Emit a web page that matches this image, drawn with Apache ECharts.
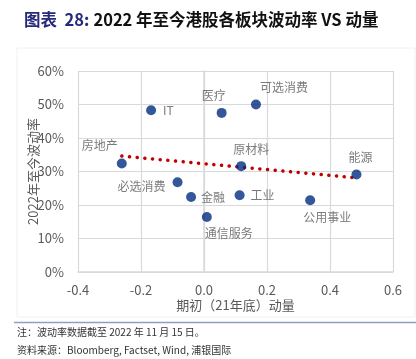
<!DOCTYPE html>
<html><head><meta charset="utf-8">
<script src="https://cdn.jsdelivr.net/npm/echarts@6/dist/echarts.min.js"></script>
<style>html,body{margin:0;padding:0;background:#fff}#c{width:416px;height:359px}</style>
</head><body><div id="c"></div>
<script>
const sectors = ['IT','房地产','医疗','可选消费','原材料','能源','必选消费','金融','通信服务','工业','公用事业'];
const momentum = [-0.168,-0.261,0.056,0.165,0.118,0.484,-0.084,-0.041,0.009,0.113,0.337];
const volatility = [0.483,0.324,0.475,0.500,0.316,0.291,0.268,0.224,0.164,0.229,0.214];
const trendX = [-0.261, 0.484];
const trendY = [0.346, 0.281];
const xTicks = [-0.4,-0.2,0.0,0.2,0.4,0.6];
const yTicks = ['0%','10%','20%','30%','40%','50%','60%'];

const labelPos = {
  'IT': {position:'right', offset:[2,0]},
  '房地产': {position:'top', offset:[-22,-2]},
  '医疗': {position:'top', offset:[-8,-1]},
  '可选消费': {position:'top', offset:[28,-1]},
  '原材料': {position:'top', offset:[10,-1]},
  '能源': {position:'top', offset:[4,-1]},
  '必选消费': {position:'left', offset:[-2,4]},
  '金融': {position:'right', offset:[0,0]},
  '通信服务': {position:'bottom', offset:[22,0]},
  '工业': {position:'right', offset:[1,0]},
  '公用事业': {position:'bottom', offset:[17,1]}
};

const pts = sectors.map((s,i)=>({
  name:s, value:[momentum[i], volatility[i]],
  label:Object.assign({show:true, formatter:s}, labelPos[s])
}));

const chart = echarts.init(document.getElementById('c'), null, {renderer:'canvas'});
const font = '"Noto Sans CJK SC", "Noto Sans", sans-serif';
chart.setOption({
  animation:false,
  textStyle:{fontFamily:font},
  title:{
    left:19, top:6,
    text:'{a|图表  28:} {b|2022 年至今港股各板块波动率 VS 动量}',
    textStyle:{rich:{
      a:{fontSize:16.5, fontWeight:'bold', color:'#26297A', fontFamily:font},
      b:{fontSize:16.5, fontWeight:'bold', color:'#111', fontFamily:font}
    }}
  },
  grid:{left:78, right:23, top:71, bottom:87},
  xAxis:{
    type:'value', min:-0.4, max:0.6, interval:0.2,
    axisLine:{show:true, onZero:false, lineStyle:{color:'#D9D9D9', width:1.5}},
    axisTick:{show:false},
    splitLine:{show:true, lineStyle:{color:'#D9D9D9', width:1.2}},
    axisLabel:{color:'#595959', fontSize:13, margin:12, formatter:v=>v.toFixed(1)},
    name:'期初（21年底）动量', nameLocation:'middle', nameGap:27, nameMoveOverlap:false,
    nameTextStyle:{color:'#595959', fontSize:13}
  },
  yAxis:{
    type:'value', min:0, max:0.6, interval:0.1,
    axisLine:{show:true, lineStyle:{color:'#D9D9D9', width:1.5}},
    axisTick:{show:false},
    splitLine:{show:true, lineStyle:{color:'#D9D9D9', width:1.2}},
    axisLabel:{color:'#595959', fontSize:13, margin:14, formatter:v=>yTicks[Math.round(v*10)]},
    name:'2022年至今波动率', nameLocation:'middle', nameGap:38, nameRotate:90, nameMoveOverlap:false,
    nameTextStyle:{color:'#595959', fontSize:13}
  },
  series:[
    {
      type:'line', data:trendX.map((x,i)=>[x,trendY[i]]), symbol:'none', z:1,
      lineStyle:{color:'#C00000', width:3.5, type:[0.1,7.6], cap:'round'}
    },
    {
      type:'scatter', data:pts, symbolSize:10, z:3,
      itemStyle:{color:'#002D80'},
      label:{color:'#595959', fontSize:12, fontFamily:font}
    }
  ],
  graphic:[
    {type:'rect', shape:{x:17, y:48, width:398, height:269}, style:{fill:'none', stroke:'#F0F0F0', lineWidth:1}, z:-1},
    {type:'line', shape:{x1:14, y1:322.5, x2:416, y2:322.5}, style:{stroke:'#8EA0C0', lineWidth:1.5}},
    {type:'text', left:17, top:327, style:{text:'注：波动率数据截至 2022 年 11 月 15 日。', fill:'#333', font:'10px '+font}},
    {type:'text', left:17, top:345, style:{text:'资料来源：Bloomberg, Factset, Wind, 浦银国际', fill:'#333', font:'10px '+font}}
  ]
});
</script></body></html>
